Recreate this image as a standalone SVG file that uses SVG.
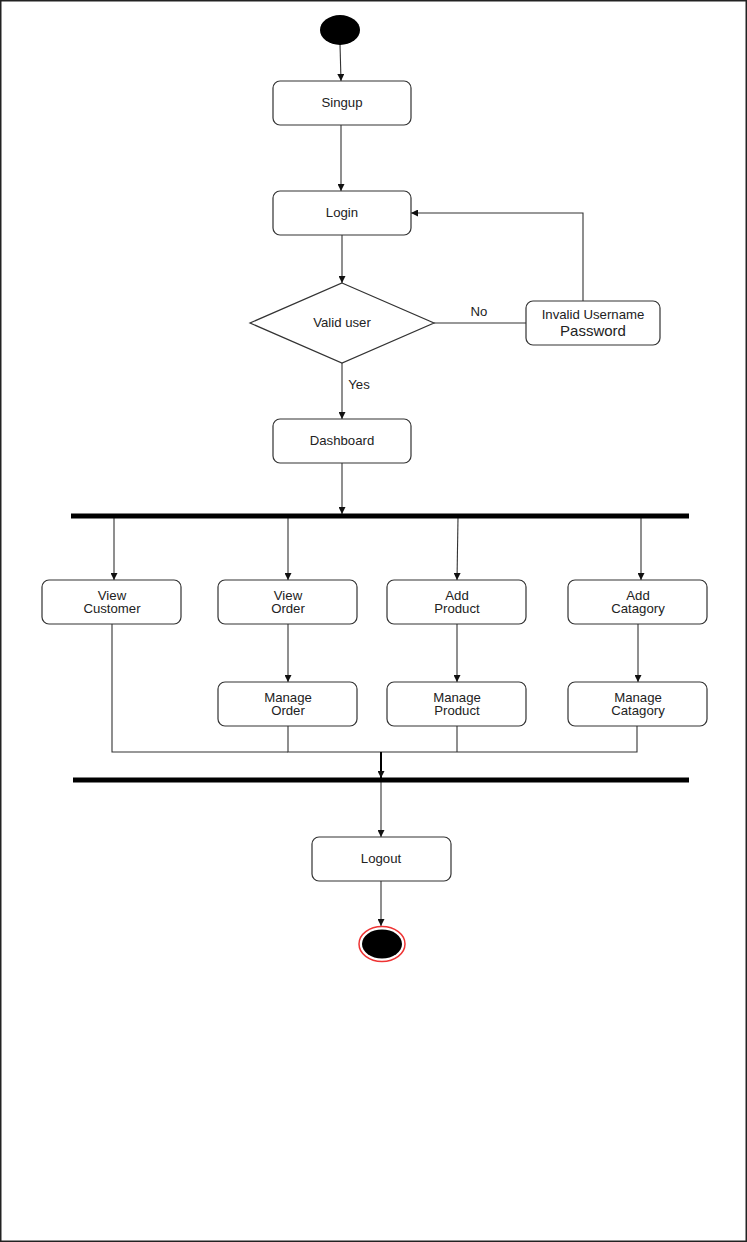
<svg xmlns="http://www.w3.org/2000/svg" width="747" height="1242" viewBox="0 0 747 1242">
<style>
.box{fill:#fff;stroke:#333;stroke-width:1.2}
.t{font-family:"Liberation Sans",Arial,sans-serif;font-size:13.2px;fill:#222;text-anchor:middle}
.c{fill:none;stroke:#333;stroke-width:1.1}
.bar{stroke:#000;stroke-width:5}
</style>
<defs>
<marker id="a" viewBox="0 0 10 10" refX="10" refY="5" markerWidth="7" markerHeight="7" markerUnits="userSpaceOnUse" orient="auto">
<path d="M0,0 L10,5 L0,10 z" fill="#111"/>
</marker>
</defs>
<rect x="0.75" y="0.75" width="745.5" height="1240.5" fill="#fff" stroke="#222" stroke-width="1.5"/>

<g id="connectors">
<path class="c" d="M340,44 L341,81" marker-end="url(#a)"/>
<path class="c" d="M341,125 L341,191" marker-end="url(#a)"/>
<path class="c" d="M342,235 L342,283" marker-end="url(#a)"/>
<path class="c" d="M434,323 L526,323"/>
<path class="c" d="M583,301 L583,213 L411,213" marker-end="url(#a)"/>
<path class="c" d="M342,363 L342,419" marker-end="url(#a)"/>
<path class="c" d="M342,463 L342,514" marker-end="url(#a)"/>
<path class="c" d="M114,518 L114,580" marker-end="url(#a)"/>
<path class="c" d="M288,518 L288,580" marker-end="url(#a)"/>
<path class="c" d="M458,518 L457,580" marker-end="url(#a)"/>
<path class="c" d="M641,518 L641,580" marker-end="url(#a)"/>
<path class="c" d="M288,624 L288,682" marker-end="url(#a)"/>
<path class="c" d="M457,624 L457,682" marker-end="url(#a)"/>
<path class="c" d="M638,624 L638,682" marker-end="url(#a)"/>
<path class="c" d="M112,624 L112,752 L288,752"/>
<path class="c" d="M288,726 L288,752 L637,752 L637,726"/>
<path class="c" d="M457,726 L457,752"/>
<path class="c" d="M381,752 L381,778" marker-end="url(#a)" style="stroke:#000;stroke-width:2"/>
<path class="c" d="M381,782 L381,837" marker-end="url(#a)"/>
<path class="c" d="M381,881 L381,926" marker-end="url(#a)"/>
<text class="t" x="479" y="316">No</text>
<text class="t" x="359" y="389">Yes</text>
</g>

<g id="start"><ellipse cx="340" cy="30" rx="20" ry="15" fill="#000"/></g>
<g id="singup"><rect class="box" x="273" y="81" width="138" height="44" rx="7"/><text class="t" x="342" y="107">Singup</text></g>
<g id="login"><rect class="box" x="273" y="191" width="138" height="44" rx="7"/><text class="t" x="342" y="217">Login</text></g>
<g id="valid"><polygon class="box" points="342,283 434,323 342,363 250,323"/><text class="t" x="342" y="327">Valid user</text></g>
<g id="invalid"><rect class="box" x="526" y="301" width="134" height="44" rx="7"/><text class="t" x="593" y="319">Invalid Username</text><text class="t" x="593" y="335.5" style="font-size:15px">Password</text></g>
<g id="dashboard"><rect class="box" x="273" y="419" width="138" height="44" rx="7"/><text class="t" x="342" y="445">Dashboard</text></g>
<g id="fork"><line class="bar" x1="71" y1="516" x2="689" y2="516"/></g>
<g id="viewCustomer"><rect class="box" x="42" y="580" width="139" height="44" rx="7"/><text class="t" x="112" y="600">View</text><text class="t" x="112" y="613">Customer</text></g>
<g id="viewOrder"><rect class="box" x="218" y="580" width="139" height="44" rx="7"/><text class="t" x="288" y="600">View</text><text class="t" x="288" y="613">Order</text></g>
<g id="addProduct"><rect class="box" x="387" y="580" width="139" height="44" rx="7"/><text class="t" x="457" y="600">Add</text><text class="t" x="457" y="613">Product</text></g>
<g id="addCatagory"><rect class="box" x="568" y="580" width="139" height="44" rx="7"/><text class="t" x="638" y="600">Add</text><text class="t" x="638" y="613">Catagory</text></g>
<g id="manageOrder"><rect class="box" x="218" y="682" width="139" height="44" rx="7"/><text class="t" x="288" y="702">Manage</text><text class="t" x="288" y="715">Order</text></g>
<g id="manageProduct"><rect class="box" x="387" y="682" width="139" height="44" rx="7"/><text class="t" x="457" y="702">Manage</text><text class="t" x="457" y="715">Product</text></g>
<g id="manageCatagory"><rect class="box" x="568" y="682" width="139" height="44" rx="7"/><text class="t" x="638" y="702">Manage</text><text class="t" x="638" y="715">Catagory</text></g>
<g id="join"><line class="bar" x1="73" y1="780" x2="689" y2="780"/></g>
<g id="logout"><rect class="box" x="312" y="837" width="139" height="44" rx="7"/><text class="t" x="381" y="863">Logout</text></g>
<g id="end"><ellipse cx="382" cy="944" rx="23" ry="17.5" fill="#fff" stroke="#e33" stroke-width="1.5"/><ellipse cx="382" cy="944" rx="20" ry="14.5" fill="#000"/></g>
</svg>
